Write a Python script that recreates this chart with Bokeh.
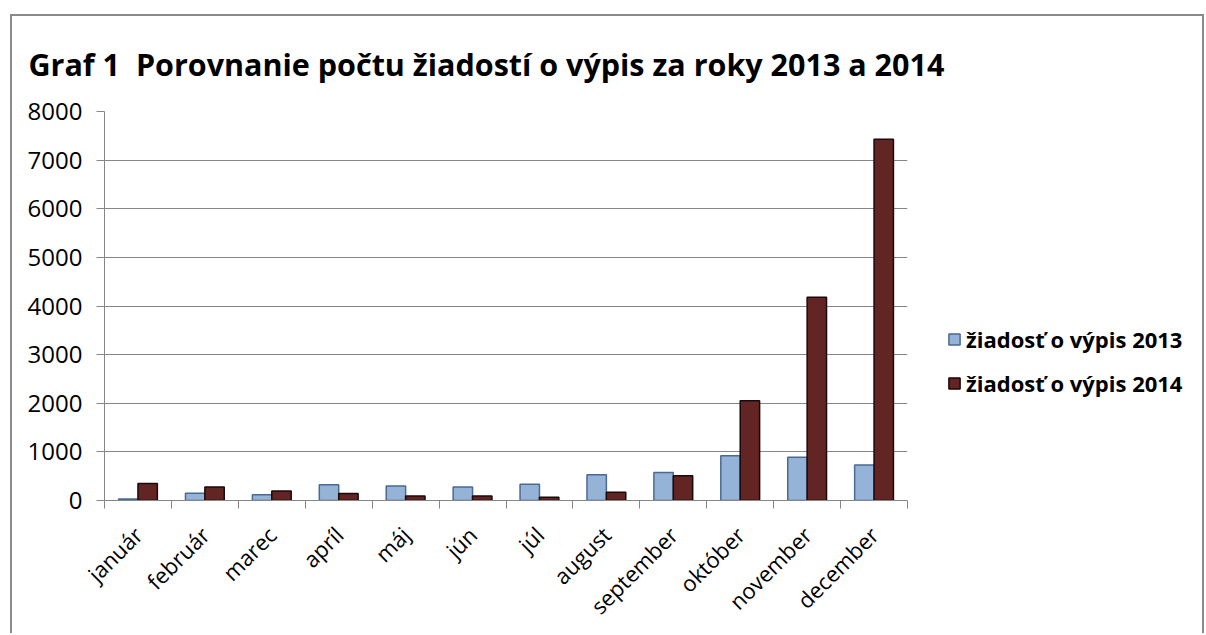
import numpy as np
from math import pi
from bokeh.plotting import figure
from bokeh.layouts import row, column
from bokeh.models import (ColumnDataSource, FixedTicker, Legend, LegendItem,
                          Range1d, Label)
from bokeh.embed import file_html
from bokeh.resources import INLINE

months = ["január", "február", "marec", "apríl", "máj", "jún", "júl",
          "august", "september", "október", "november", "december"]
v2013 = [30, 150, 120, 325, 300, 278, 335, 530, 575, 920, 890, 730]
v2014 = [350, 278, 197, 142, 95, 95, 65, 170, 510, 2050, 4180, 7430]
series_names = ["žiadosť o výpis 2013", "žiadosť o výpis 2014"]
y_ticks = [0, 1000, 2000, 3000, 4000, 5000, 6000, 7000, 8000]
title_text = "Graf 1\u00a0 Porovnanie počtu žiadostí o výpis za roky 2013 a 2014"

FONT = "Open Sans"
C13, L13 = "#95b3d7", "#4a6a94"
C14, L14 = "#632523", "#1a0a0a"
idx = np.arange(len(months))
src = ColumnDataSource(dict(
    x13=idx + 0.5 - 0.145, x14=idx + 0.5 + 0.145,
    v13=v2013, v14=v2014))

# ---- title strip ----
TH = 70
t = figure(width=1190, height=TH, output_backend="svg", toolbar_location=None,
           x_range=Range1d(0, 1), y_range=Range1d(0, 1), min_border=0,
           x_axis_type=None, y_axis_type=None)
t.outline_line_color = None
t.grid.grid_line_color = None
t.add_layout(Label(x=16, y=23, x_units="screen", y_units="screen", text=title_text,
                   text_font=FONT, text_font_size="30.5px", text_font_style="bold",
                   text_color="#000000", text_baseline="alphabetic"))

# ---- main chart ----
H = 547
p = figure(width=910, height=H, output_backend="svg", toolbar_location=None,
           x_range=Range1d(0, 12), y_range=Range1d(0, 8000),
           min_border_left=92, min_border_right=15, min_border_top=25,
           min_border_bottom=123)
p.outline_line_color = None

p.vbar(x="x13", top="v13", width=0.29, source=src,
       fill_color=C13, line_color=L13, line_width=1.5)
p.vbar(x="x14", top="v14", width=0.29, source=src,
       fill_color=C14, line_color=L14, line_width=1.5)

# y axis
p.yaxis.ticker = FixedTicker(ticks=y_ticks)
p.yaxis.axis_line_color = "#868686"
p.yaxis.major_tick_line_color = "#868686"
p.yaxis.major_tick_out = 8
p.yaxis.major_tick_in = 0
p.yaxis.minor_tick_line_color = None
p.yaxis.major_label_text_font = FONT
p.yaxis.major_label_text_font_size = "24px"
p.yaxis.major_label_text_color = "#000000"
p.yaxis.major_label_standoff = 14

# x axis
p.xaxis.ticker = FixedTicker(ticks=list(idx + 0.5), minor_ticks=list(range(13)))
p.xaxis.major_label_overrides = {float(i + 0.5): m for i, m in enumerate(months)}
p.xaxis.major_label_orientation = pi / 4
p.xaxis.axis_line_color = "#868686"
p.xaxis.major_tick_line_color = None
p.xaxis.minor_tick_line_color = "#868686"
p.xaxis.minor_tick_out = 8
p.xaxis.minor_tick_in = 0
p.xaxis.major_label_text_font = FONT
p.xaxis.major_label_text_font_size = "22px"
p.xaxis.major_label_text_color = "#000000"
p.xaxis.major_label_standoff = 22

p.xgrid.grid_line_color = None
p.ygrid.grid_line_color = "#868686"
p.ygrid.ticker = FixedTicker(ticks=y_ticks)

# ---- legend panel ----
q = figure(width=280, height=H, output_backend="svg", toolbar_location=None,
           x_range=Range1d(0, 1), y_range=Range1d(0, 1),
           min_border=0, x_axis_type=None, y_axis_type=None)
q.outline_line_color = None
q.grid.grid_line_color = None
g13 = q.vbar(x=[5], top=[0], width=0.1, fill_color=C13, line_color=L13, line_width=1.5)
g14 = q.vbar(x=[5], top=[0], width=0.1, fill_color=C14, line_color=L14, line_width=1.5)
legend = Legend(items=[LegendItem(label=series_names[0], renderers=[g13]),
                       LegendItem(label=series_names[1], renderers=[g14])],
                location=(25, 102), orientation="vertical")
legend.border_line_color = None
legend.background_fill_alpha = 0
legend.padding = 0
legend.margin = 0
legend.glyph_width = 14
legend.glyph_height = 14
legend.label_standoff = 5
legend.spacing = 14
legend.label_text_font = FONT
legend.label_text_font_size = "22px"
legend.label_text_font_style = "bold"
legend.label_text_color = "#000000"
q.add_layout(legend)

layout = column(t, row(p, q, spacing=0), spacing=0)
layout.styles = {"border-left": "2px solid #8a8a8a", "border-top": "2px solid #8a8a8a",
                 "border-right": "2px solid #8a8a8a", "margin-left": "10px",
                 "margin-top": "14px"}

open("out.html", "w").write(file_html(layout, INLINE))
